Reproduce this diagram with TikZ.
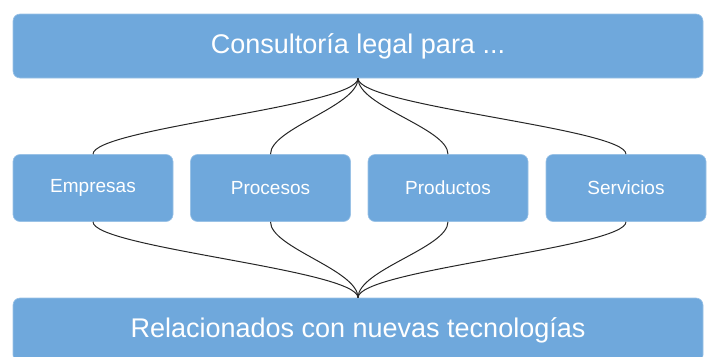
\documentclass[tikz,border=0pt]{standalone}
\usepackage{fontspec}
\setmainfont{Liberation Sans}
\usepackage{xcolor}
\usetikzlibrary{positioning}

\definecolor{boxblue}{HTML}{6FA8DC}

\tikzset{
  mainbox/.style={fill=boxblue, draw=boxblue!70!white, line width=0.6pt, rounded corners=7pt,
    text=white, minimum width=690pt, minimum height=64pt, inner sep=0pt,
    font=\fontsize{27}{32}\selectfont},
  subbox/.style={fill=boxblue, draw=boxblue!70!white, line width=0.6pt, rounded corners=7pt,
    text=white, minimum width=160pt, minimum height=67pt, inner sep=0pt,
    font=\fontsize{19}{23}\selectfont},
  link/.style={draw=black!85, line width=1pt}
}

\begin{document}
\begin{tikzpicture}[x=1pt, y=-1pt]

\useasboundingbox (0,0) rectangle (714,356);
\clip (0,0) rectangle (714,356);

% Top and bottom bars
\node[mainbox] (consult) at (358,46) {Consultoría legal para ...};
\node[mainbox] (tech) at (358,330) {Relacionados con nuevas tecnologías};

% Middle boxes
\node[subbox] (emp) at (93,188) {Empresas};
\node[subbox] (proc) at (270.5,188) {Procesos};
\node[subbox] (prod) at (448,188) {Productos};
\node[subbox] (serv) at (626,188) {Servicios};

% Curved links
\foreach \n in {emp, proc, prod, serv} {
  \draw[link] (consult.south) .. controls +(0,28) and +(0,-26) .. (\n.north);
  \draw[link] (\n.south) .. controls +(0,26) and +(0,-28) .. (tech.north);
}

\end{tikzpicture}
\end{document}
